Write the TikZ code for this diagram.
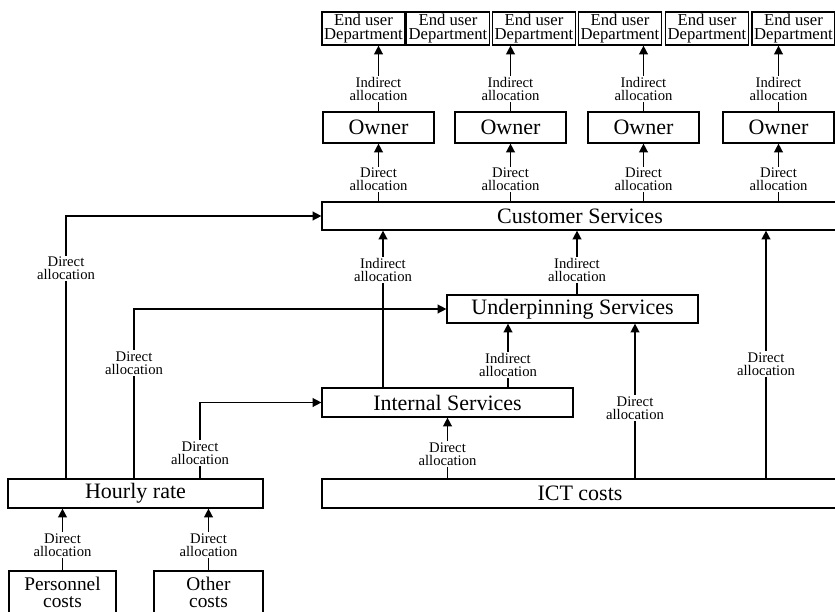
\documentclass[tikz,border=0pt]{standalone}
\usepackage{fontspec}
\setmainfont{Liberation Serif}
\usetikzlibrary{arrows.meta}

\begin{document}
\begin{tikzpicture}[
    x=0.75pt, y=-0.75pt,
    box/.style={draw, line width=0.9pt, inner sep=1pt, align=center, minimum height=21pt, font=\fontsize{16.5}{18}\selectfont},
    userbox/.style={box, minimum width=62.25pt, minimum height=24.75pt, inner sep=0.5pt, font=\fontsize{12.5}{11}\selectfont},
    ownerbox/.style={box, minimum width=83.25pt, minimum height=23.25pt},
    costbox/.style={box, minimum height=32.25pt, font=\fontsize{14.5}{13}\selectfont},
    arr/.style={-{Triangle[length=6.5pt,width=6.5pt]}, line width=1.1pt},
    lbl/.style={fill=white, inner sep=1pt, align=center, font=\fontsize{11}{10}\selectfont}
]
    \useasboundingbox (0,0) rectangle (835,611);

    % --- End user departments ---
    \node[userbox] (eu1) at (363.5,28.5) {End user\\Department};
    \node[userbox] (eu2) at (448,28.5) {End user\\Department};
    \node[userbox] (eu3) at (534,28.5) {End user\\Department};
    \node[userbox] (eu4) at (620,28.5) {End user\\Department};
    \node[userbox] (eu5) at (707,28.5) {End user\\Department};
    \node[userbox] (eu6) at (793.5,28.5) {End user\\Department};

    % --- Owners ---
    \node[ownerbox] (ow1) at (378.5,127.5) {Owner};
    \node[ownerbox] (ow2) at (510.5,127.5) {Owner};
    \node[ownerbox] (ow3) at (643.5,127.5) {Owner};
    \node[ownerbox] (ow4) at (778.5,127.5) {Owner};

    % --- Services and costs ---
    \node[box, minimum width=387pt] (cs) at (580,216) {Customer Services};
    \node[box, minimum width=188.25pt] (us) at (572.5,309) {Underpinning Services};
    \node[box, minimum width=188.25pt, minimum height=21.75pt] (is) at (447.5,402.5) {Internal Services};
    \node[box, minimum width=387pt, minimum height=21.75pt] (ict) at (580,493.5) {ICT costs};
    \node[box, minimum width=191.25pt, minimum height=21.75pt] (hr) at (135.5,493.5) {Hourly rate};
    \node[costbox, minimum width=80.25pt] (pc) at (62.5,592.5) {Personnel\\costs};
    \node[costbox, minimum width=81.75pt] (oc) at (208.5,592.5) {Other\\costs};

    % --- Owners to end users ---
    \draw[arr] (ow1.north) -- node[lbl, pos=0.34] {Indirect\\allocation} (ow1.north |- eu1.south);
    \draw[arr] (ow2.north) -- node[lbl, pos=0.34] {Indirect\\allocation} (ow2.north |- eu3.south);
    \draw[arr] (ow3.north) -- node[lbl, pos=0.34] {Indirect\\allocation} (ow3.north |- eu4.south);
    \draw[arr] (ow4.north) -- node[lbl, pos=0.34] {Indirect\\allocation} (ow4.north |- eu6.south);

    % --- Customer services to owners ---
    \foreach \o in {ow1,ow2,ow3,ow4}
        \draw[arr] (\o.south |- cs.north) -- node[lbl, pos=0.38] {Direct\\allocation} (\o.south);

    % --- Hourly rate to services ---
    \draw[arr] (66,0 |- hr.north) |- node[lbl, pos=0.4] {Direct\\allocation} (cs.west);
    \draw[arr] (134,0 |- hr.north) |- node[lbl, pos=0.34] {Direct\\allocation} (us.west);
    \draw[arr] (200,0 |- hr.north) |- node[lbl, pos=0.165] {Direct\\allocation} (is.west);

    % --- Between services ---
    \draw[arr] (383,0 |- is.north) -- node[lbl, pos=0.75] {Indirect\\allocation} (383,0 |- cs.south);
    \draw[arr] (508,0 |- is.north) -- node[lbl, pos=0.35] {Indirect\\allocation} (508,0 |- us.south);
    \draw[arr] (577,0 |- us.north) -- node[lbl, pos=0.38] {Indirect\\allocation} (577,0 |- cs.south);

    % --- ICT costs to services ---
    \draw[arr] (is.south |- ict.north) -- node[lbl, pos=0.4] {Direct\\allocation} (is.south);
    \draw[arr] (635,0 |- ict.north) -- node[lbl, pos=0.455] {Direct\\allocation} (635,0 |- us.south);
    \draw[arr] (766,0 |- ict.north) -- node[lbl, pos=0.46] {Direct\\allocation} (766,0 |- cs.south);

    % --- Costs to hourly rate ---
    \draw[arr] (pc.north) -- node[lbl, pos=0.41] {Direct\\allocation} (pc.north |- hr.south);
    \draw[arr] (oc.north) -- node[lbl, pos=0.41] {Direct\\allocation} (oc.north |- hr.south);
\end{tikzpicture}
\end{document}
